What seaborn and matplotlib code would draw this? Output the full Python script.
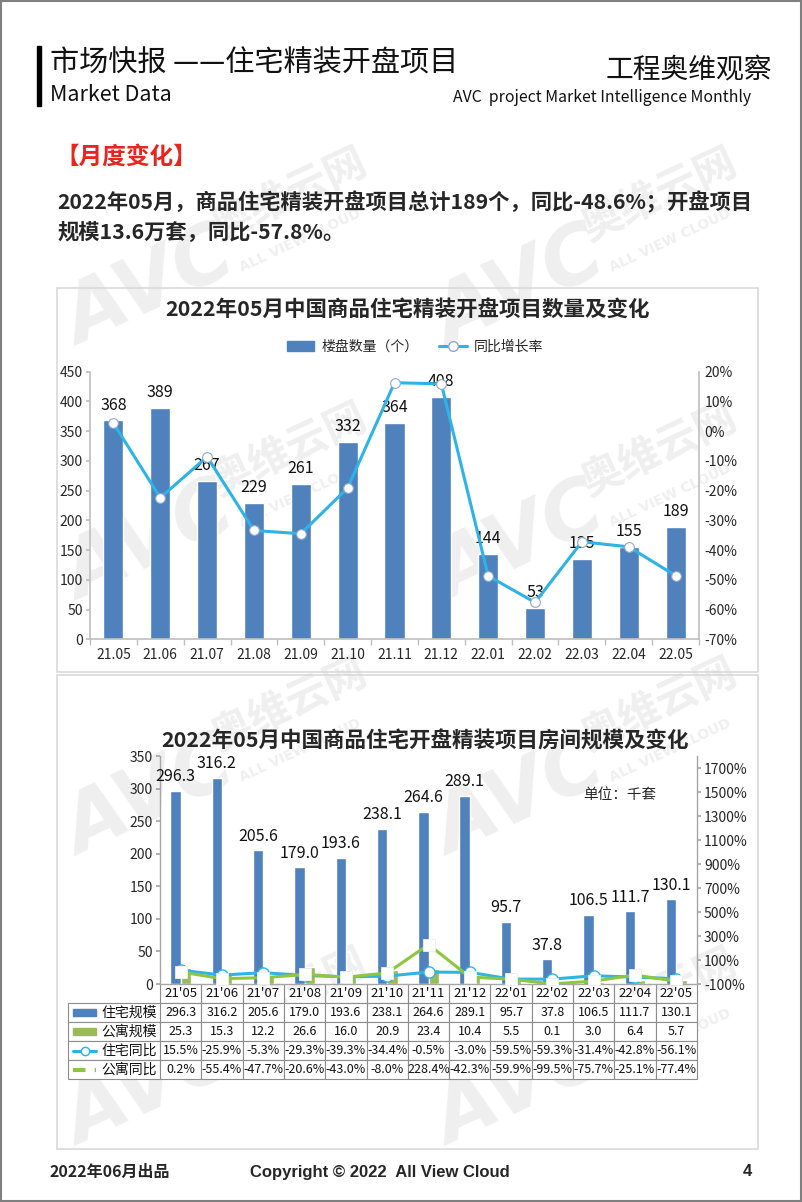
import numpy as np
import pandas as pd
import matplotlib
matplotlib.use("Agg")
import matplotlib.pyplot as plt
import seaborn as sns
from matplotlib.patches import Rectangle, Patch
from matplotlib.lines import Line2D
from matplotlib.ticker import FuncFormatter, MultipleLocator, FixedLocator

# ---------------- data ----------------
months1 = ["21.05", "21.06", "21.07", "21.08", "21.09", "21.10", "21.11",
           "21.12", "22.01", "22.02", "22.03", "22.04", "22.05"]
project_counts = [368, 389, 267, 229, 261, 332, 364, 408, 144, 53, 135, 155, 189]
count_yoy = [2.7, -22.4, -8.6, -33.4, -34.5, -19.1, 16.3, 15.9, -48.7, -57.6,
             -37.2, -38.9, -48.6]

months2 = ["21'05", "21'06", "21'07", "21'08", "21'09", "21'10", "21'11",
           "21'12", "22'01", "22'02", "22'03", "22'04", "22'05"]
res_scale = [296.3, 316.2, 205.6, 179.0, 193.6, 238.1, 264.6, 289.1, 95.7,
             37.8, 106.5, 111.7, 130.1]
apt_scale = [25.3, 15.3, 12.2, 26.6, 16.0, 20.9, 23.4, 10.4, 5.5, 0.1, 3.0,
             6.4, 5.7]
res_yoy = [15.5, -25.9, -5.3, -29.3, -39.3, -34.4, -0.5, -3.0, -59.5, -59.3,
           -31.4, -42.8, -56.1]
apt_yoy = [0.2, -55.4, -47.7, -20.6, -43.0, -8.0, 228.4, -42.3, -59.9, -99.5,
           -75.7, -25.1, -77.4]

series_names = ["住宅规模", "公寓规模", "住宅同比", "公寓同比"]

# ---------------- style ----------------
sns.set_theme(style="white")
plt.rcParams["font.family"] = ["Noto Sans CJK SC", "DejaVu Sans"]
plt.rcParams["axes.unicode_minus"] = False

BLUE = "#4F81BD"
GREEN = "#9BBB59"
LINE_BLUE = "#2DB3E6"
LINE_GREEN = "#8DC63F"
GRID = "#BFBFBF"
WM = "#EFEFEF"

W, H = 802, 1202
fig = plt.figure(figsize=(W / 100, H / 100), dpi=100)


def fx(px):
    return px / W


def fy(py):
    return 1 - py / H


def rect(l, t, r, b):
    return [l / W, 1 - b / H, (r - l) / W, (b - t) / H]


def frame(l, t, r, b, color="#D9D9D9", lw=1.2):
    fig.patches.append(Rectangle((fx(l), fy(b)), (r - l) / W, (b - t) / H,
                                 transform=fig.transFigure, fill=False,
                                 edgecolor=color, lw=lw, zorder=0))


# page border
frame(1, 1, W - 1, H - 1, color="#7F7F7F", lw=1.5)

# faint background watermark tiles
for (ax_, ay_) in [(150, 290), (520, 290), (150, 545), (520, 545),
                   (150, 800), (520, 800), (150, 1090), (520, 1090)]:
    fig.text(fx(ax_), fy(ay_), "AVC", fontsize=58, fontweight="bold",
             style="italic", color=WM, rotation=25, ha="center",
             va="center", zorder=-5, family=["DejaVu Sans"])
    fig.text(fx(ax_ + 140), fy(ay_ - 95), "奥维云网", fontsize=30,
             fontweight="bold", color=WM, rotation=25, ha="center",
             va="center", zorder=-5)
    fig.text(fx(ax_ + 150), fy(ay_ - 50), "ALL VIEW CLOUD", fontsize=10,
             fontweight="bold", color=WM, rotation=25, ha="center",
             va="center", zorder=-5, family=["DejaVu Sans"])

# ---------------- header ----------------
fig.patches.append(Rectangle((fx(37), fy(106)), 4 / W, 60 / H,
                             transform=fig.transFigure, color="black"))
fig.text(fx(50), fy(63), "市场快报 ——住宅精装开盘项目", fontsize=21,
         ha="left", va="center", color="#111111")
fig.text(fx(50), fy(95), "Market Data", fontsize=15.5, ha="left",
         va="center", color="#111111")
fig.text(fx(772), fy(70), "工程奥维观察", fontsize=20, ha="right",
         va="center", color="#111111")
fig.text(fx(751), fy(98), "AVC  project Market Intelligence Monthly",
         fontsize=11.4, ha="right", va="center", color="#111111")

fig.text(fx(55), fy(157), "【月度变化】", fontsize=17, fontweight="bold",
         color="#E8251F", ha="left", va="center")
fig.text(fx(57), fy(202),
         "2022年05月，商品住宅精装开盘项目总计189个，同比-48.6%；开盘项目",
         fontsize=15.3, fontweight="bold", ha="left", va="center")
fig.text(fx(57), fy(233), "规模13.6万套，同比-57.8%。", fontsize=15.3,
         fontweight="bold", ha="left", va="center")

# ---------------- chart 1 ----------------
frame(57, 288, 758, 672)
fig.text(fx(408), fy(309), "2022年05月中国商品住宅精装开盘项目数量及变化",
         fontsize=15.5, fontweight="bold", ha="center", va="center")

ax1 = fig.add_axes(rect(90, 371.7, 699, 639.3))
sns.barplot(x=months1, y=project_counts, color=BLUE, width=0.43,
            saturation=1, ax=ax1)
ax1.set_ylim(0, 450)
ax1.yaxis.set_major_locator(MultipleLocator(50))
ax1.bar_label(ax1.containers[0], padding=5, fontsize=11.5, color="#111111")

ax1b = ax1.twinx()
sns.pointplot(x=months1, y=count_yoy, color=LINE_BLUE, markers="o",
              markersize=7, markerfacecolor="white",
              markeredgecolor="#8FA8CC", markeredgewidth=0.8,
              linewidth=2.2, errorbar=None, ax=ax1b)
ax1b.set_ylim(-70, 20)
ax1b.yaxis.set_major_locator(MultipleLocator(10))
ax1b.yaxis.set_major_formatter(FuncFormatter(lambda v, p: f"{v:.0f}%"))

for a in (ax1, ax1b):
    a.set_xlabel("")
    a.set_ylabel("")
    a.set_facecolor("none")
    a.set_xlim(-0.5, len(months1) - 0.5)
    for s in a.spines.values():
        s.set_visible(False)
ax1.spines["left"].set_visible(True)
ax1.spines["bottom"].set_visible(True)
ax1b.spines["right"].set_visible(True)
for s in (ax1.spines["left"], ax1.spines["bottom"], ax1b.spines["right"]):
    s.set_color(GRID)
    s.set_linewidth(1.2)
ax1.tick_params(axis="y", length=3, color=GRID, labelsize=10, pad=2,
                left=True)
ax1b.tick_params(axis="y", length=0, labelsize=10, pad=4, right=True)
ax1.tick_params(axis="x", length=0, labelsize=10, pad=6)
ax1.xaxis.set_minor_locator(FixedLocator(np.arange(-0.5, len(months1), 1)))
ax1.tick_params(axis="x", which="minor", length=4, color=GRID, bottom=True)

h1 = [Patch(color=BLUE),
      Line2D([], [], color=LINE_BLUE, lw=2.2, marker="o", markersize=7,
             markerfacecolor="white", markeredgecolor="#8FA8CC")]
fig.legend(h1, ["楼盘数量（个）", "同比增长率"], loc="center",
           bbox_to_anchor=(fx(415), fy(347)), ncol=2, frameon=False,
           fontsize=10, handlelength=2.0, columnspacing=1.5,
           handletextpad=0.5)

# ---------------- chart 2 ----------------
frame(57, 675, 758, 1149)
fig.text(fx(425), fy(741), "2022年05月中国商品住宅开盘精装项目房间规模及变化",
         fontsize=15.5, fontweight="bold", ha="center", va="center")
fig.text(fx(583), fy(795), "单位：千套", fontsize=10.5, ha="left",
         va="center")

ax2 = fig.add_axes(rect(160, 756, 697, 984))
df2 = pd.DataFrame({
    "月份": months2 * 2,
    "规模": res_scale + apt_scale,
    "类型": [series_names[0]] * len(months2) + [series_names[1]] * len(months2),
})
sns.barplot(data=df2, x="月份", y="规模", hue="类型",
            palette=[BLUE, GREEN], width=0.5, gap=0, saturation=1,
            legend=False, ax=ax2)
ax2.set_ylim(0, 350)
ax2.yaxis.set_major_locator(MultipleLocator(50))
ax2.bar_label(ax2.containers[0], fmt="%.1f", padding=4, fontsize=11.5,
              color="#111111")

ax2b = ax2.twinx()
sns.pointplot(x=months2, y=res_yoy, color=LINE_BLUE, markers="o",
              markersize=8, markerfacecolor="white",
              markeredgecolor=LINE_BLUE, markeredgewidth=1.0,
              linewidth=2.2, errorbar=None, ax=ax2b)
sns.pointplot(x=months2, y=apt_yoy, color=LINE_GREEN, markers="s",
              markersize=8, markerfacecolor="white",
              markeredgecolor="#EEEEEE", markeredgewidth=0.6,
              linewidth=2.2, errorbar=None, ax=ax2b)
ax2b.set_ylim(-100, 1800)
ax2b.yaxis.set_major_locator(FixedLocator(np.arange(-100, 1800, 200)))
ax2b.yaxis.set_major_formatter(FuncFormatter(lambda v, p: f"{v:.0f}%"))

for a in (ax2, ax2b):
    a.set_xlabel("")
    a.set_ylabel("")
    a.set_facecolor("none")
    a.set_xlim(-0.5, len(months2) - 0.5)
    for s in a.spines.values():
        s.set_visible(False)
ax2.spines["left"].set_visible(True)
ax2.spines["bottom"].set_visible(True)
ax2b.spines["right"].set_visible(True)
for s in (ax2.spines["left"], ax2.spines["bottom"], ax2b.spines["right"]):
    s.set_color("#A6A6A6")
    s.set_linewidth(1.0)
ax2.tick_params(axis="y", length=3, color="#A6A6A6", labelsize=10, pad=2,
                left=True)
ax2b.tick_params(axis="y", length=3, color="#A6A6A6", labelsize=10, pad=2,
                 right=True)
ax2.set_xticks(range(len(months2)))
ax2.set_xticklabels([])
ax2.tick_params(axis="x", length=0)

# data table below chart 2
fmt_scale = lambda v: f"{v:.1f}"
fmt_pct = lambda v: f"{v:.1f}%"
cell_text = [
    [""] + months2,
    [series_names[0]] + [fmt_scale(v) for v in res_scale],
    [series_names[1]] + [fmt_scale(v) for v in apt_scale],
    [series_names[2]] + [fmt_pct(v) for v in res_yoy],
    [series_names[3]] + [fmt_pct(v) for v in apt_yoy],
]
tab_l, tab_r, tab_t, tab_b = 68, 697, 984, 1079
ax_l, ax_r, ax_t, ax_b = 160, 697, 756, 984
bbox = [(tab_l - ax_l) / (ax_r - ax_l), -(tab_b - tab_t) / (ax_b - ax_t),
        (tab_r - tab_l) / (ax_r - ax_l), (tab_b - tab_t) / (ax_b - ax_t)]
label_w = ax_l - tab_l
col_w = (ax_r - ax_l) / len(months2)
tbl = ax2.table(cellText=cell_text, colWidths=[label_w] + [col_w] * len(months2),
                cellLoc="center", bbox=bbox)
tbl.auto_set_font_size(False)
for (r, c), cell in tbl.get_celld().items():
    cell.set_edgecolor("#8C8C8C")
    cell.set_linewidth(0.8)
    cell.set_facecolor("white")
    cell.get_text().set_fontsize(9)
    cell.get_text().set_color("#111111")
    if r == 0 and c == 0:
        cell.visible_edges = ""
        cell.set_facecolor("none")
    elif r == 0:
        cell.visible_edges = "LRB"
        cell.get_text().set_fontsize(9.5)
    if c == 0 and r > 0:
        cell.get_text().set_ha("right")
        cell.PAD = 0.03
        cell.get_text().set_fontsize(10)

# legend keys in the table's label column
row_h = (tab_b - tab_t) / 5
kx0, kx1 = 73, 96
for i in range(4):
    yc = tab_t + row_h * (i + 1.5)
    if i < 2:
        fig.patches.append(Rectangle((fx(kx0), fy(yc + 3.5)), (kx1 - kx0) / W,
                                     7 / H, transform=fig.transFigure,
                                     color=[BLUE, GREEN][i], zorder=5))
    elif i == 2:
        fig.add_artist(Line2D([fx(kx0), fx(kx1)], [fy(yc), fy(yc)],
                              transform=fig.transFigure, color=LINE_BLUE,
                              lw=2.2, zorder=5))
        fig.add_artist(Line2D([fx((kx0 + kx1) / 2)], [fy(yc)],
                              transform=fig.transFigure, marker="o",
                              markersize=6, markerfacecolor="white",
                              markeredgecolor=LINE_BLUE, lw=0, zorder=6))
    else:
        fig.add_artist(Line2D([fx(kx0), fx(kx1)], [fy(yc), fy(yc)],
                              transform=fig.transFigure, color=LINE_GREEN,
                              lw=3, dashes=(3, 2.2), zorder=5))

# ---------------- footer ----------------
fig.text(fx(50), fy(1172), "2022年06月出品", fontsize=11.5,
         fontweight="bold", ha="left", va="center")
fig.text(fx(250), fy(1172), "Copyright © 2022  All View Cloud", fontsize=12,
         fontweight="bold", ha="left", va="center",
         family=["Liberation Sans", "DejaVu Sans"])
fig.text(fx(752), fy(1172), "4", fontsize=12, fontweight="bold",
         ha="right", va="center", family=["Liberation Sans", "DejaVu Sans"])

fig.savefig("out.png", dpi=100)
